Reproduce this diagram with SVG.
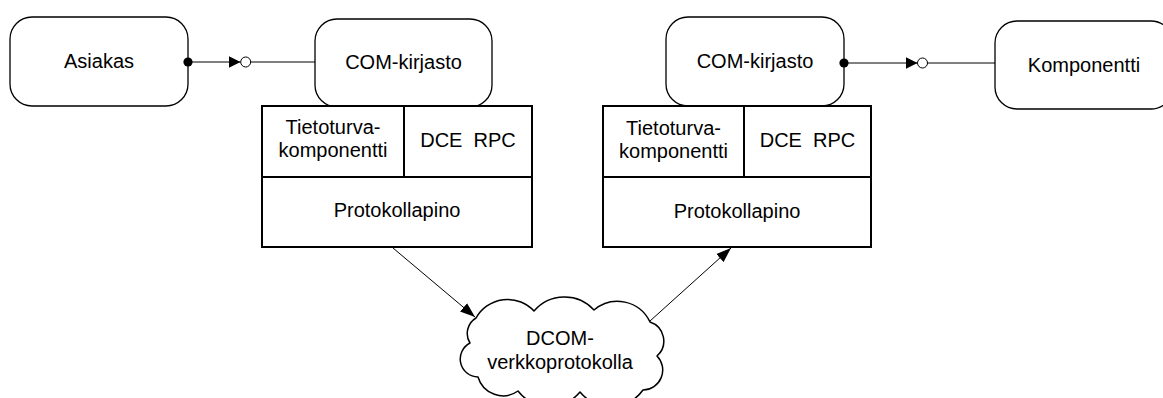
<svg xmlns="http://www.w3.org/2000/svg" width="1163" height="398" viewBox="0 0 1163 398">
  <style>
    .box { fill: #ffffff; stroke: #000000; stroke-width: 1.3; }
    .stack { fill: #ffffff; stroke: #000000; stroke-width: 2; }
    .cell { stroke: #000000; stroke-width: 2; fill: none; }
    .cloud { fill: #ffffff; stroke: #000000; stroke-width: 1.5; stroke-linejoin: round; }
    .lbl { font-family: "Liberation Sans", Arial, sans-serif; font-size: 20px; fill: #000000; text-anchor: middle; }
    .wire { stroke: #000000; stroke-width: 1; fill: none; }
    .socket { fill: #ffffff; stroke: #000000; stroke-width: 1; }
  </style>
  <defs>
    <marker id="dot" markerUnits="userSpaceOnUse" viewBox="0 0 10 10" refX="5" refY="5" markerWidth="10" markerHeight="10" orient="auto">
      <circle cx="5" cy="5" r="4.6" fill="#000000"/>
    </marker>
    <marker id="tri" markerUnits="userSpaceOnUse" viewBox="0 0 12 12" refX="12" refY="6" markerWidth="12" markerHeight="12" orient="auto">
      <path d="M0,0 L12,6 L0,12 Z" fill="#000000"/>
    </marker>
    <marker id="head" markerUnits="userSpaceOnUse" viewBox="0 0 15 11" refX="15" refY="5.5" markerWidth="15" markerHeight="11" orient="auto">
      <path d="M0,0 L15,5.5 L0,11 Z" fill="#000000"/>
    </marker>
  </defs>

  <!-- client -->
  <g id="asiakas">
    <rect class="box" x="10" y="17" width="178" height="89" rx="22" ry="22"/>
    <text class="lbl" x="99" y="68">Asiakas</text>
  </g>

  <!-- client-side COM library -->
  <g id="com-kirjasto-1">
    <rect class="box" x="315" y="19" width="177" height="88" rx="22" ry="22"/>
    <text class="lbl" x="403.5" y="69">COM-kirjasto</text>
  </g>

  <!-- client-side protocol stack -->
  <g id="pino-1">
    <rect class="stack" x="262" y="106" width="270" height="141"/>
    <line class="cell" x1="262" y1="177" x2="532" y2="177"/>
    <line class="cell" x1="404" y1="106" x2="404" y2="177"/>
    <text class="lbl" x="333" y="134">Tietoturva-</text>
    <text class="lbl" x="333" y="157">komponentti</text>
    <text class="lbl" x="468" y="147">DCE&#160;&#160;RPC</text>
    <text class="lbl" x="397" y="217">Protokollapino</text>
  </g>

  <!-- server-side COM library -->
  <g id="com-kirjasto-2">
    <rect class="box" x="666" y="17" width="178" height="89" rx="22" ry="22"/>
    <text class="lbl" x="755" y="68">COM-kirjasto</text>
  </g>

  <!-- server-side protocol stack -->
  <g id="pino-2">
    <rect class="stack" x="603" y="106" width="268" height="141"/>
    <line class="cell" x1="603" y1="177" x2="871" y2="177"/>
    <line class="cell" x1="744" y1="106" x2="744" y2="177"/>
    <text class="lbl" x="673.5" y="135">Tietoturva-</text>
    <text class="lbl" x="673.5" y="158">komponentti</text>
    <text class="lbl" x="807.5" y="147">DCE&#160;&#160;RPC</text>
    <text class="lbl" x="737" y="218">Protokollapino</text>
  </g>

  <!-- component -->
  <g id="komponentti">
    <rect class="box" x="995" y="21" width="178" height="88" rx="22" ry="22"/>
    <text class="lbl" x="1084" y="72">Komponentti</text>
  </g>

  <!-- network cloud -->
  <g id="dcom-verkko">
    <path class="cloud" d="M476,318
      A36,36 0 0 1 534,311
      A40,40 0 0 1 594,310
      A36,36 0 0 1 650,322
      A20,20 0 0 1 657,356
      A20,20 0 0 1 643,390
      A40,40 0 0 1 580,392
      A40,40 0 0 1 518,391
      A26,26 0 0 1 478,377
      A18,18 0 0 1 470,343
      A18,18 0 0 1 476,318 Z"/>
    <text class="lbl" x="560" y="345">DCOM-</text>
    <text class="lbl" x="560" y="369">verkkoprotokolla</text>
  </g>

  <!-- connectors -->
  <g id="connectors">
    <line class="wire" x1="188" y1="62" x2="240.5" y2="62" marker-start="url(#dot)" marker-end="url(#tri)"/>
    <circle class="socket" cx="245.7" cy="62" r="5"/>
    <line class="wire" x1="250.7" y1="62" x2="315" y2="62"/>

    <line class="wire" x1="844" y1="63" x2="917.5" y2="63" marker-start="url(#dot)" marker-end="url(#tri)"/>
    <circle class="socket" cx="922.5" cy="63" r="5"/>
    <line class="wire" x1="927.5" y1="63" x2="995" y2="63"/>

    <line class="wire" x1="393" y1="248" x2="475" y2="317" marker-end="url(#head)"/>
    <line class="wire" x1="650" y1="321" x2="731" y2="248" marker-end="url(#head)"/>
  </g>
</svg>
